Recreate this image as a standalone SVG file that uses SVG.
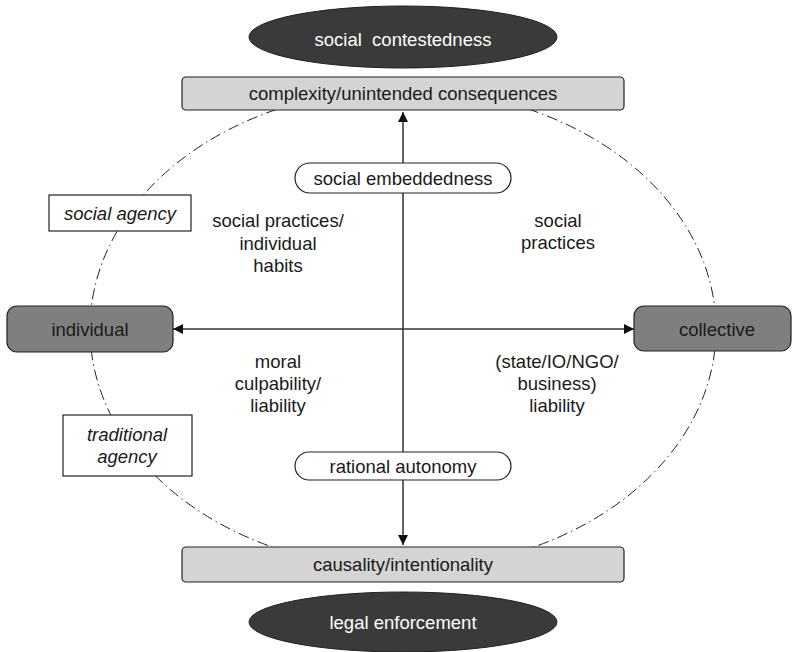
<svg xmlns="http://www.w3.org/2000/svg" width="793" height="652" viewBox="0 0 793 652">
<style>
text{font-family:"Liberation Sans",Arial,sans-serif;font-size:18.5px;fill:#1a1a1a;text-anchor:middle}
.w{fill:#fff}
.i{font-style:italic}
.bar{fill:#d4d4d4;stroke:#222;stroke-width:1.2}
.dark{fill:#3a3a3a;stroke:#222;stroke-width:1}
.mid{fill:#7f7f7f;stroke:#222;stroke-width:1.2}
.box{fill:#fff;stroke:#222;stroke-width:1.2}
.ln{stroke:#333;stroke-width:1.5;fill:none}
</style>
<defs>
<marker id="ah" viewBox="0 0 10 10" refX="10" refY="5" markerWidth="10" markerHeight="10" markerUnits="userSpaceOnUse" orient="auto-start-reverse">
<path d="M0,0 L10,5 L0,10 z" fill="#111"/>
</marker>
</defs>
<ellipse cx="403" cy="329" rx="313" ry="240" fill="none" stroke="#222" stroke-width="1" stroke-dasharray="11,4,1.5,4"/>
<g id="connectors">
<line class="ln" x1="403" y1="545" x2="403" y2="112" marker-start="url(#ah)" marker-end="url(#ah)"/>
<line class="ln" x1="173" y1="329" x2="634" y2="329" marker-start="url(#ah)" marker-end="url(#ah)"/>
</g>
<g id="social-contestedness">
<ellipse class="dark" cx="403" cy="37" rx="154" ry="31"/>
<text class="w" x="403" y="46">social&#160; contestedness</text>
</g>
<g id="complexity">
<rect class="bar" x="182" y="77" width="442" height="33" rx="4"/>
<text x="403" y="100">complexity/unintended consequences</text>
</g>
<g id="social-embeddedness">
<rect class="box" x="295" y="163" width="216" height="30" rx="15"/>
<text x="403" y="185">social embeddedness</text>
</g>
<g id="social-agency">
<rect class="box" x="49" y="195" width="142" height="36"/>
<text class="i" x="120" y="219.5">social agency</text>
</g>
<g id="q-top-left">
<text x="278" y="227">social practices/</text>
<text x="278" y="250">individual</text>
<text x="278" y="272">habits</text>
</g>
<g id="q-top-right">
<text x="558" y="227">social</text>
<text x="558" y="249">practices</text>
</g>
<g id="individual">
<rect class="mid" x="7" y="306" width="166" height="46" rx="10"/>
<text x="90" y="336">individual</text>
</g>
<g id="collective">
<rect class="mid" x="634" y="306" width="157" height="45" rx="10"/>
<text x="717" y="336">collective</text>
</g>
<g id="q-bottom-left">
<text x="278" y="368">moral</text>
<text x="278" y="390">culpability/</text>
<text x="278" y="412">liability</text>
</g>
<g id="q-bottom-right">
<text x="557" y="368">(state/IO/NGO/</text>
<text x="557" y="390">business)</text>
<text x="557" y="412">liability</text>
</g>
<g id="traditional-agency">
<rect class="box" x="63" y="415" width="129" height="61"/>
<text class="i" x="127" y="441">traditional</text>
<text class="i" x="127" y="463">agency</text>
</g>
<g id="rational-autonomy">
<rect class="box" x="295" y="452" width="216" height="28" rx="14"/>
<text x="403" y="473">rational autonomy</text>
</g>
<g id="causality">
<rect class="bar" x="182" y="547" width="442" height="35" rx="4"/>
<text x="403" y="571">causality/intentionality</text>
</g>
<g id="legal-enforcement">
<ellipse class="dark" cx="403" cy="622" rx="154" ry="30"/>
<text class="w" x="403" y="629">legal enforcement</text>
</g>
</svg>
